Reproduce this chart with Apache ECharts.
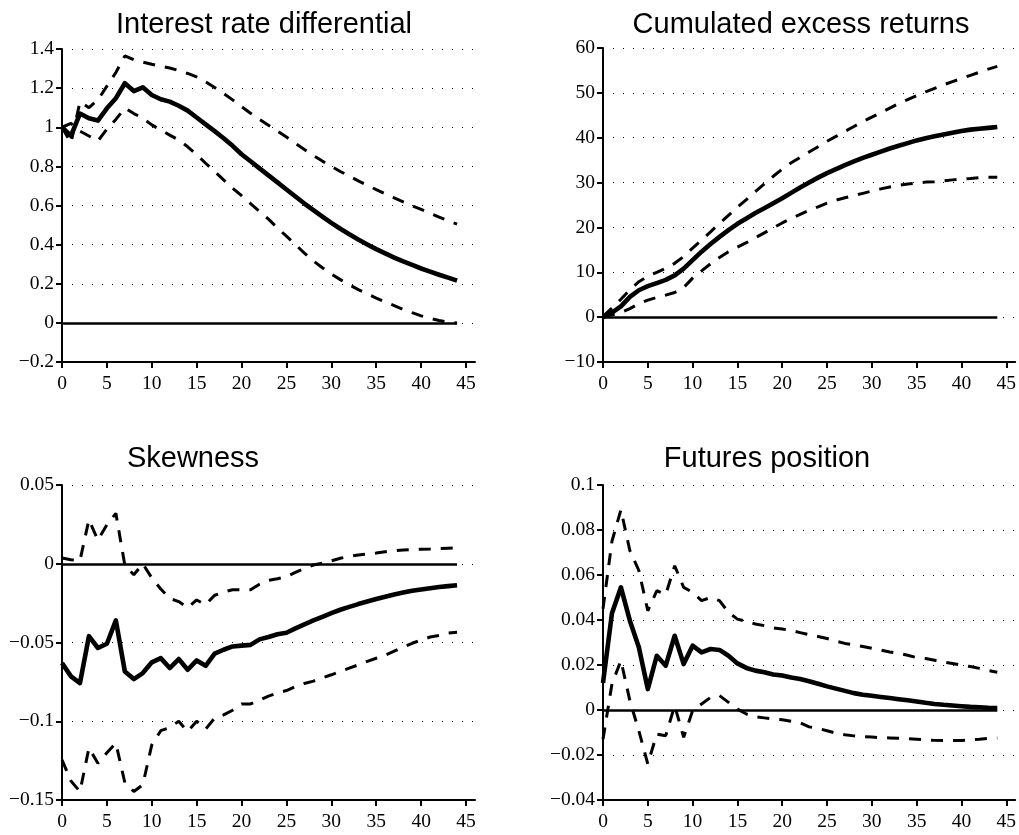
<!DOCTYPE html>
<html>
<head>
<meta charset="utf-8">
<script src="https://cdn.jsdelivr.net/npm/echarts@6/dist/echarts.min.js"></script>
<style>
  html, body { margin: 0; padding: 0; background: #fff; }
  #chart { width: 1019px; height: 835px; }
</style>
</head>
<body>
<div id="chart"></div>
<script>
// Impulse horizon (periods after the shock)
const horizon = Array.from({ length: 45 }, (_, i) => i);

// Panel titles
const titles = ['Interest rate differential', 'Cumulated excess returns', 'Skewness', 'Futures position'];

// Axis ranges per panel: [min, max, interval]
const yRanges = [[-0.2, 1.4, 0.2], [-10, 60, 10], [-0.15, 0.05, 0.05], [-0.04, 0.1, 0.02]];
const xRange = [0, 46, 5];

// Interest rate differential: response, upper and lower bands
const irdMid = [1.0, 0.956, 1.07, 1.046, 1.034, 1.097, 1.148, 1.225, 1.185, 1.204, 1.165, 1.143, 1.131, 1.11, 1.085, 1.05, 1.015, 0.98, 0.944, 0.905, 0.862, 0.826, 0.79, 0.754, 0.718, 0.682, 0.646, 0.61, 0.576, 0.543, 0.511, 0.481, 0.453, 0.426, 0.401, 0.377, 0.355, 0.334, 0.314, 0.296, 0.278, 0.262, 0.246, 0.231, 0.216];
const irdUpper = [1.0, 0.92, 1.13, 1.10, 1.14, 1.21, 1.28, 1.365, 1.345, 1.333, 1.322, 1.312, 1.303, 1.29, 1.275, 1.257, 1.232, 1.203, 1.173, 1.14, 1.105, 1.072, 1.04, 1.01, 0.98, 0.95, 0.918, 0.886, 0.856, 0.827, 0.80, 0.774, 0.75, 0.726, 0.703, 0.681, 0.66, 0.639, 0.619, 0.599, 0.58, 0.56, 0.541, 0.522, 0.505];
const irdLower = [1.0, 1.02, 0.98, 0.955, 0.93, 0.99, 1.04, 1.098, 1.07, 1.046, 1.012, 0.986, 0.96, 0.935, 0.90, 0.86, 0.816, 0.774, 0.731, 0.689, 0.65, 0.61, 0.57, 0.53, 0.485, 0.443, 0.40, 0.357, 0.317, 0.282, 0.25, 0.221, 0.195, 0.17, 0.148, 0.127, 0.107, 0.088, 0.069, 0.052, 0.036, 0.023, 0.012, 0.004, 0.0];

// Cumulated excess returns
const cerMid = [0, 1.0, 2.4, 4.5, 6.0, 6.9, 7.6, 8.3, 9.3, 10.8, 12.7, 14.6, 16.3, 17.9, 19.4, 20.8, 22.0, 23.2, 24.3, 25.4, 26.5, 27.7, 28.9, 30.0, 31.1, 32.1, 33.0, 33.9, 34.7, 35.5, 36.2, 36.9, 37.6, 38.2, 38.8, 39.4, 39.9, 40.3, 40.7, 41.1, 41.5, 41.8, 42.0, 42.2, 42.4];
const cerUpper = [0.2, 2.0, 4.0, 6.1, 7.9, 9.1, 10.0, 10.9, 12.0, 13.5, 15.4, 17.2, 19.0, 20.9, 22.7, 24.5, 26.2, 28.0, 29.7, 31.4, 33.0, 34.4, 35.6, 36.8, 38.0, 39.2, 40.3, 41.4, 42.5, 43.6, 44.6, 45.6, 46.6, 47.6, 48.5, 49.4, 50.2, 51.0, 51.8, 52.5, 53.2, 53.9, 54.6, 55.3, 55.9];
const cerLower = [0, 0.5, 1.0, 1.9, 3.0, 3.8, 4.4, 4.9, 5.5, 6.6, 8.7, 10.3, 11.9, 13.3, 14.6, 15.6, 16.6, 17.7, 18.8, 19.9, 21.0, 22.0, 22.9, 23.8, 24.6, 25.4, 26.1, 26.6, 27.1, 27.6, 28.1, 28.6, 29.0, 29.4, 29.7, 29.9, 30.1, 30.2, 30.4, 30.6, 30.8, 30.9, 31.1, 31.2, 31.2];

// Skewness
const skewMid = [-0.063, -0.0715, -0.0758, -0.046, -0.0535, -0.0508, -0.036, -0.0684, -0.0732, -0.0694, -0.0626, -0.0599, -0.0662, -0.0605, -0.0673, -0.0614, -0.0648, -0.0571, -0.0546, -0.0525, -0.052, -0.0515, -0.048, -0.0465, -0.0448, -0.0438, -0.041, -0.0385, -0.036, -0.0337, -0.0313, -0.0292, -0.0274, -0.0256, -0.024, -0.0224, -0.0209, -0.0195, -0.0183, -0.0172, -0.0163, -0.0155, -0.0148, -0.0142, -0.0137];
const skewUpper = [0.0036, 0.0025, 0.002, 0.028, 0.015, 0.0248, 0.032, -0.001, -0.007, 0.0, -0.009, -0.016, -0.022, -0.024, -0.028, -0.023, -0.026, -0.02, -0.018, -0.0165, -0.0165, -0.0165, -0.013, -0.0105, -0.0095, -0.0082, -0.0055, -0.003, -0.0008, 0.0003, 0.0018, 0.0035, 0.0047, 0.0056, 0.0062, 0.0068, 0.0076, 0.0082, 0.0087, 0.009, 0.0092, 0.0094, 0.0097, 0.0099, 0.0101];
const skewLower = [-0.1245, -0.138, -0.1446, -0.117, -0.1266, -0.12, -0.1139, -0.139, -0.1446, -0.1403, -0.115, -0.106, -0.104, -0.1, -0.1065, -0.1, -0.105, -0.098, -0.096, -0.093, -0.089, -0.089, -0.0865, -0.084, -0.082, -0.0805, -0.078, -0.076, -0.0745, -0.0725, -0.0705, -0.0684, -0.0663, -0.0642, -0.062, -0.06, -0.058, -0.0555, -0.053, -0.0505, -0.0485, -0.0465, -0.0455, -0.044, -0.0435];

// Futures position
const futMid = [0.012, 0.043, 0.0545, 0.0397, 0.0279, 0.0093, 0.0241, 0.0197, 0.033, 0.0204, 0.0286, 0.0256, 0.0271, 0.0267, 0.0241, 0.0207, 0.0187, 0.0175, 0.0168, 0.0158, 0.0153, 0.0144, 0.0138, 0.0128, 0.0117, 0.0105, 0.0095, 0.0085, 0.0075, 0.0068, 0.0063, 0.0058, 0.0053, 0.0048, 0.0043, 0.0038, 0.0032, 0.0027, 0.0023, 0.002, 0.0017, 0.0014, 0.0012, 0.001, 0.0009];
const futUpper = [0.045, 0.075, 0.089, 0.0708, 0.062, 0.0441, 0.053, 0.0513, 0.0641, 0.0545, 0.0523, 0.0486, 0.05, 0.0486, 0.0434, 0.0404, 0.0394, 0.0382, 0.0375, 0.0365, 0.036, 0.0353, 0.0344, 0.0335, 0.0327, 0.0318, 0.0306, 0.0296, 0.029, 0.0282, 0.0274, 0.0266, 0.0258, 0.0252, 0.0243, 0.0233, 0.0229, 0.0221, 0.0213, 0.0207, 0.02, 0.0193, 0.0185, 0.0175, 0.0168];
const futLower = [-0.013, 0.0116, 0.022, 0.0041, -0.0092, -0.024, -0.0107, -0.0114, 0.0019, -0.0121, -0.0003, 0.0027, 0.0056, 0.0064, 0.0034, 0.0004, -0.0018, -0.003, -0.0035, -0.004, -0.0043, -0.005, -0.0057, -0.0075, -0.0082, -0.0092, -0.0103, -0.011, -0.0115, -0.0118, -0.012, -0.0123, -0.0124, -0.0126, -0.0128, -0.013, -0.0133, -0.0135, -0.0136, -0.0136, -0.0136, -0.0133, -0.013, -0.0126, -0.0124];

const panels = [
  { mid: irdMid, upper: irdUpper, lower: irdLower },
  { mid: cerMid, upper: cerUpper, lower: cerLower },
  { mid: skewMid, upper: skewUpper, lower: skewLower },
  { mid: futMid, upper: futUpper, lower: futLower }
];

// Plot rectangles and title anchors
const gridBoxes = [
  { left: 62, top: 49, width: 413, height: 313 },
  { left: 603, top: 48, width: 414, height: 314 },
  { left: 62, top: 485, width: 413, height: 315 },
  { left: 603, top: 485, width: 414, height: 315 }
];
const titleAnchors = [[264, 10], [801, 10], [193, 444], [767, 444]];

const SERIF = '"Liberation Serif", "Times New Roman", serif';
const SANS = '"Liberation Sans", Arial, Helvetica, sans-serif';
const TICK_SIZE = 19.5;

function fmtTick(v) {
  if (Math.abs(v) < 1e-9) return '0';
  const a = parseFloat(Math.abs(v).toFixed(6)).toString();
  return (v < 0 ? '\u2212' : '') + a;
}

const pairs = arr => horizon.map((h, i) => [h, arr[i]]);

const grid = gridBoxes.map(b => Object.assign({ containLabel: false }, b));

const xAxis = gridBoxes.map((b, i) => ({
  type: 'value', gridIndex: i,
  min: xRange[0], max: xRange[1], interval: xRange[2],
  axisLine: { onZero: false, lineStyle: { color: '#000', width: 2 } },
  axisTick: { inside: false, length: 6, lineStyle: { color: '#000', width: 2 } },
  axisLabel: {
    color: '#000', fontFamily: SERIF, fontSize: TICK_SIZE, margin: 12,
    showMaxLabel: false,
    formatter: v => (v % 5 === 0 ? String(v) : '')
  },
  splitLine: { show: false }
}));

const yAxis = yRanges.map((r, i) => ({
  type: 'value', gridIndex: i,
  min: r[0], max: r[1], interval: r[2],
  axisLine: { show: true, onZero: false, lineStyle: { color: '#000', width: 2 } },
  axisTick: { show: true, inside: false, length: 6, lineStyle: { color: '#000', width: 2 } },
  axisLabel: { color: '#000', fontFamily: SERIF, fontSize: TICK_SIZE, margin: 8, formatter: fmtTick },
  splitLine: { show: true, lineStyle: { color: '#000', width: 1, type: [1, 9] } }
}));

const series = [];
panels.forEach((p, i) => {
  series.push({
    type: 'line', xAxisIndex: i, yAxisIndex: i, data: pairs(p.upper),
    showSymbol: false, symbol: 'none', silent: true,
    lineStyle: { color: '#000', width: 3, type: [12, 10] }
  });
  series.push({
    type: 'line', xAxisIndex: i, yAxisIndex: i, data: pairs(p.lower),
    showSymbol: false, symbol: 'none', silent: true,
    lineStyle: { color: '#000', width: 3, type: [12, 10] }
  });
  series.push({
    type: 'line', xAxisIndex: i, yAxisIndex: i, data: pairs(p.mid),
    showSymbol: false, symbol: 'none', silent: true, z: 3,
    lineStyle: { color: '#000', width: 4.6, join: 'round' },
    markLine: {
      silent: true, symbol: ['none', 'none'], label: { show: false },
      lineStyle: { color: '#000', width: 2.5, type: 'solid' },
      data: [[{ coord: [horizon[0], 0] }, { coord: [horizon[horizon.length - 1], 0] }]]
    }
  });
});

const graphic = titles.map((t, i) => ({
  type: 'text', x: titleAnchors[i][0], y: titleAnchors[i][1],
  style: { text: t, fill: '#000', font: '29px ' + SANS, align: 'center', verticalAlign: 'top' }
}));

const chart = echarts.init(document.getElementById('chart'), null, { renderer: 'canvas' });
chart.setOption({
  backgroundColor: '#fff',
  animation: false,
  grid, xAxis, yAxis, series, graphic
});
</script>
</body>
</html>
